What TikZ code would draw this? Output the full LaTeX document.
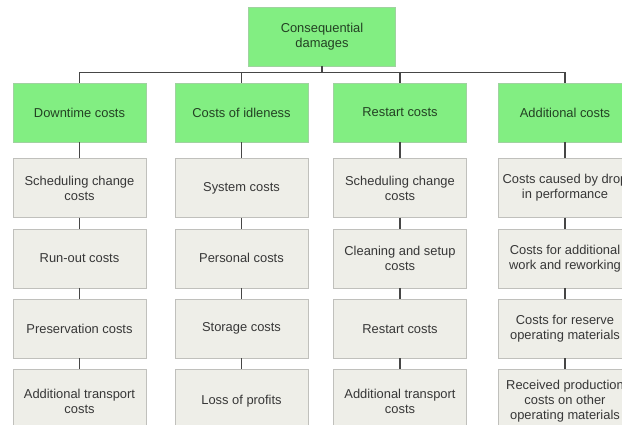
\documentclass[tikz,border=0pt]{standalone}
\usepackage{fontspec}
\setmainfont{Liberation Sans}
\usetikzlibrary{positioning,calc}
\definecolor{light_green}{RGB}{130,238,130}
\definecolor{green_border}{RGB}{160,210,160}
\definecolor{box_gray}{RGB}{238,238,232}
\definecolor{border_gray}{RGB}{192,192,188}
\definecolor{line_gray}{RGB}{70,70,70}
\definecolor{text_gray}{RGB}{55,55,55}
\definecolor{text_green}{RGB}{35,65,35}

\begin{document}
\begin{tikzpicture}[x=1pt,y=1pt,font=\fontsize{12.9}{15}\selectfont,
        rootbox/.style={draw=green_border,fill=light_green,text=text_green,
            minimum width=147pt,minimum height=59pt,align=center,inner xsep=2pt},
        headbox/.style={rootbox,minimum width=133pt},
        itembox/.style={draw=border_gray,fill=box_gray,text=text_gray,
            minimum width=133pt,minimum height=59pt,align=center,inner xsep=2pt},
        lastbox/.style={itembox,minimum height=64pt},
        link/.style={draw=line_gray,line width=1.2pt}]

        \useasboundingbox (0,0) rectangle (622,-425);
        \clip (0,0) rectangle (622,-425);

        \node[rootbox] (damages) at (322,-36.5) {Consequential\\damages};
        \coordinate (bus) at (322,-72.5);

        \node[headbox] (downtime) at (79.5,-112.5) {Downtime costs};
        \node[headbox] (idleness) at (241.5,-112.5) {Costs of idleness};
        \node[headbox] (restart) at (400,-112.5) {Restart costs};
        \node[headbox] (additional) at (565,-112.5) {Additional costs};

        % downtime column
        \node[itembox,below=16pt of downtime] (downtime1) {Scheduling change\\costs};
        \node[itembox,below=11pt of downtime1] (downtime2) {Run-out costs};
        \node[itembox,below=11pt of downtime2] (downtime3) {Preservation costs};
        \node[lastbox,below=11pt of downtime3] (downtime4) {Additional transport\\costs};

        % idleness column
        \node[itembox,below=16pt of idleness] (idleness1) {System costs};
        \node[itembox,below=11pt of idleness1] (idleness2) {Personal costs};
        \node[itembox,below=11pt of idleness2] (idleness3) {Storage costs};
        \node[lastbox,below=11pt of idleness3] (idleness4) {Loss of profits};

        % restart column
        \node[itembox,below=16pt of restart] (restart1) {Scheduling change\\costs};
        \node[itembox,below=11pt of restart1] (restart2) {Cleaning and setup\\costs};
        \node[itembox,below=11pt of restart2] (restart3) {Restart costs};
        \node[lastbox,below=11pt of restart3] (restart4) {Additional transport\\costs};

        % additional column
        \node[itembox,below=16pt of additional] (additional1) {Costs caused by drop\\in performance};
        \node[itembox,below=11pt of additional1] (additional2) {Costs for additional\\work and reworking};
        \node[itembox,below=11pt of additional2] (additional3) {Costs for reserve\\operating materials};
        \node[lastbox,below=11pt of additional3] (additional4) {Received production\\costs on other\\operating materials};

        \draw[link] (damages.south) -- (bus);
        \draw[link] (bus) -| (downtime.north);
        \draw[link] (bus) -| (idleness.north);
        \draw[link] (bus) -| (restart.north);
        \draw[link] (bus) -| (additional.north);

        \foreach \col in {downtime,idleness,restart,additional}{
            \draw[link] (\col.south) -- (\col1.north);
            \draw[link] (\col1.south) -- (\col2.north);
            \draw[link] (\col2.south) -- (\col3.north);
            \draw[link] (\col3.south) -- (\col4.north);
        }
    \end{tikzpicture}
\end{document}
